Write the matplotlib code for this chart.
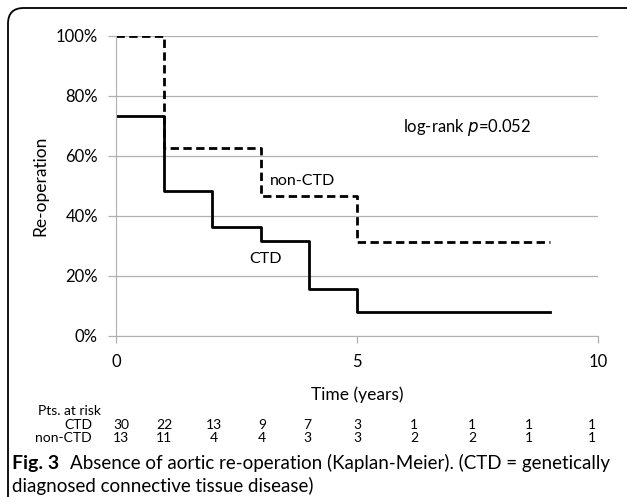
import matplotlib
matplotlib.use("Agg")
import matplotlib.pyplot as plt
from matplotlib.patches import FancyBboxPatch

plt.rcParams['font.family'] = ['Lato', 'DejaVu Sans']

# Data
ctd_times = [0, 1, 2, 3, 4, 5, 9]
ctd_surv = [73.3, 48.4, 36.3, 31.7, 15.8, 7.9, 7.9]
nonctd_times = [0, 1, 3, 5, 9]
nonctd_surv = [100, 62.5, 46.7, 31.2, 31.2]

risk_ctd = ["30", "22", "13", "9", "7", "3", "1", "1", "1", "1"]
risk_nonctd = ["13", "11", "4", "4", "3", "3", "2", "2", "1", "1"]
risk_xpix = [121, 164, 214, 262, 307, 357, 414, 472, 529, 592]

yticks = [0, 20, 40, 60, 80, 100]
ytick_labels = ["0%", "20%", "40%", "60%", "80%", "100%"]
xticks = [0, 5, 10]

W, H = 627, 497
fig = plt.figure(figsize=(W / 100, H / 100), dpi=100)

# border
border = FancyBboxPatch((8 / W, -20 / H), 700 / W, (H - 8 + 20) / H,
                        boxstyle="round,pad=0,rounding_size=0.025",
                        transform=fig.transFigure, fill=False,
                        edgecolor='black', linewidth=1.3, mutation_aspect=W / H)
fig.patches.append(border)

ax_bottom, ax_top = 336, 35.7
ax = fig.add_axes([116 / W, 1 - ax_bottom / H, (598 - 116) / W, (ax_bottom - ax_top) / H])
ax.set_xlim(0, 10)
ax.set_ylim(0, 100)

ax.step(nonctd_times, nonctd_surv, where='post', color='black', lw=2,
        linestyle=(0, (3, 1.6)))
ax.step(ctd_times, ctd_surv, where='post', color='black', lw=2)

ax.set_yticks(yticks)
ax.set_yticklabels(ytick_labels, fontsize=12)
ax.set_xticks(xticks)
ax.set_xticklabels([str(x) for x in xticks], fontsize=12)
ax.grid(axis='y', color='#b0b0b0', lw=0.9)
ax.set_axisbelow(True)
for s in ['top', 'right']:
    ax.spines[s].set_visible(False)
ax.spines['left'].set_color('#b0b0b0')
ax.spines['bottom'].set_color('#b0b0b0')
ax.tick_params(axis='y', length=6, width=0.9, color='#b0b0b0', pad=7)
ax.tick_params(axis='x', length=5, width=0.9, color='#b0b0b0', pad=8)
ax.set_ylabel("Re-operation", fontsize=12.5, labelpad=5)
ax.set_xlabel("Time (years)", fontsize=12.5, labelpad=12)

ax.text(5.95, 69.5, "log-rank $\\it{p}$=0.052", fontsize=12, ha='left', va='center')
ax.text(3.2, 51.5, "non-CTD", fontsize=11.5, ha='left', va='center')
ax.text(3.1, 25.5, "CTD", fontsize=11.5, ha='center', va='center')

# risk table
fs = 10
fig.text(38 / W, 1 - 411 / H, "Pts. at risk", fontsize=fs, ha='left', va='center')
fig.text(92 / W, 1 - 425 / H, "CTD", fontsize=fs, ha='right', va='center')
fig.text(92 / W, 1 - 438 / H, "non-CTD", fontsize=fs, ha='right', va='center')
for xp, a, b in zip(risk_xpix, risk_ctd, risk_nonctd):
    fig.text(xp / W, 1 - 425 / H, a, fontsize=fs, ha='center', va='center')
    fig.text(xp / W, 1 - 438 / H, b, fontsize=fs, ha='center', va='center')

# caption
fig.text(12 / W, 1 - 463 / H, "Fig. 3", fontsize=14, fontweight='bold',
         ha='left', va='center')
fig.text(70 / W, 1 - 463 / H,
         "Absence of aortic re-operation (Kaplan-Meier). (CTD = genetically",
         fontsize=13.5, ha='left', va='center')
fig.text(12 / W, 1 - 486 / H, "diagnosed connective tissue disease)",
         fontsize=13.5, ha='left', va='center')

fig.savefig("out.png", dpi=100)
